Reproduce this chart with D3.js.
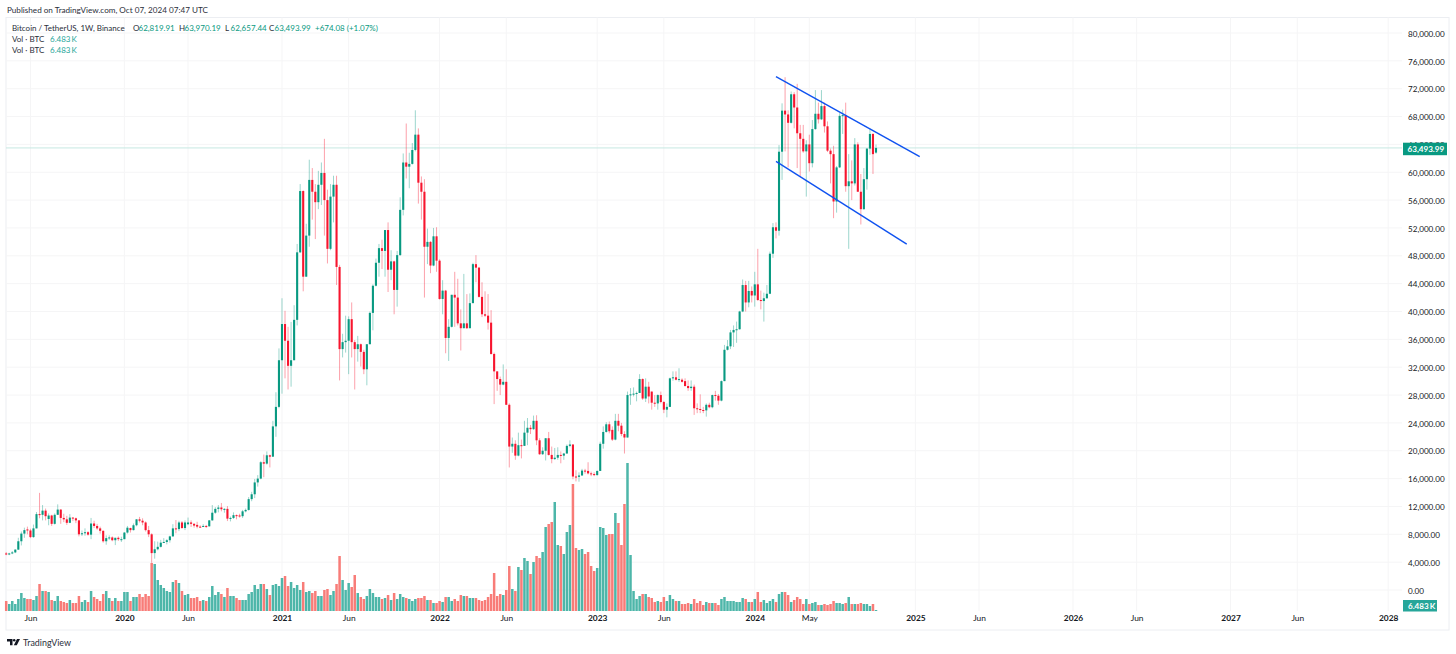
<!DOCTYPE html>
<html>
<head>
<meta charset="utf-8">
<title>BTCUSDT 1W</title>
<script src="https://cdn.jsdelivr.net/npm/d3@7"></script>
<style>
	html, body { margin: 0; padding: 0; background: #fff; overflow: hidden; }
	svg { display: block; font-family: Lato, "Open Sans", sans-serif; }
	.axis path, .axis line { display: none; }
	.axis text { fill: #131722; font-family: Lato, "Open Sans", sans-serif; }
</style>
</head>
<body>
<svg id="chart" width="1456" height="654"></svg>
<script>
// weekly candles in thousands of USDT, first one is the week of 2019-04-08
var opens = [
	5.25,5.1,5.25,5.4,5.8,7.0,8.1,8.7,8.55,7.6,8.85,10.9,10.8,11.4,10.2,10.7,9.5,10.8,11.55,10.35,
	10.15,9.65,10.4,10.3,10.0,8.0,8.15,8.3,7.95,9.55,9.2,8.85,8.5,7.0,7.45,7.55,7.15,7.5,7.25,
	// 2020
	7.3,8.25,8.9,8.6,9.3,10.15,9.95,9.7,8.6,8.0,5.3,5.85,6.2,6.8,6.9,7.15,7.7,8.85,8.75,9.7,
	8.9,9.45,9.7,9.5,9.35,9.1,9.05,9.2,9.15,10.0,11.1,11.65,11.85,11.6,11.65,10.25,10.35,10.75,10.7,10.6,
	11.3,11.5,13.05,13.75,15.45,16.0,18.35,18.15,19.35,19.15,23.5,26.3,
	// 2021
	33,38.2,35.8,32.2,33,38.8,48.5,57.3,45,50.9,58.9,57.2,55.7,58.2,59.9,56,49,56.5,58.2,46.4,
	34.6,35.6,35.8,38.9,35.6,34.6,35.3,34.2,31.7,35.3,39.8,43.7,47,49.1,48.7,51.7,46,47.2,43.1,48.1,
	54.6,61.4,60.8,61.2,63.2,65.4,58.5,57.2,49.3,50,46.6,50.8,
	// 2022
	47.3,41.8,43,36.2,37.8,42.4,42,38.3,37.6,38.3,37.6,41.2,46.8,46.3,42.1,39.6,39.4,38.4,33.9,31.4,
	30.3,29.5,29.9,26.6,20.6,21,19.3,20.8,20.7,22.6,23.3,23.1,24.3,21.5,19.5,20,21.8,19.4,18.8,19,
	19.4,19.3,19.6,20.7,20.9,16.3,16.25,16.45,17.15,17.1,16.75,16.65,
	// 2023
	16.5,17.1,21,22.7,23.8,23,21.6,24.3,23.6,22.4,21.9,28,28.1,28.2,28.3,30.3,27.5,29.2,28.5,26.9,
	26.8,28,27,25.9,26.3,30.4,30.55,30.2,30.2,30,29.3,29,29.2,26.1,26,25.85,25.8,26.6,26.25,28,
	27.9,27.2,30,34.5,35,37,37.35,37.45,40,43.8,41.3,42.95,
	// 2024
	42.3,43.9,41.65,41.5,41.9,42.55,48.3,52.1,51.6,62.95,68.85,68.3,67.1,71.2,69.3,65.6,64.8,63,64,61.3,
	66.2,68.4,67.6,69.5,66.6,63.1,62.6,55.8,60.7,68.1,68.2,58,58.7,58.4,64,57.2,54.7,59,63.4,65.5,62.82
];
var highs = [
	5.45,5.35,5.6,5.85,7.5,8.4,8.95,9.1,8.8,9.4,11.2,13.95,12.2,11.7,11.0,10.8,11.0,12.3,11.6,10.95,
	10.65,10.9,10.45,10.4,10.05,8.55,8.85,8.45,10.35,9.95,9.5,9.1,8.55,7.85,7.85,7.7,7.5,7.7,7.65,
	// 2020
	8.3,9.2,8.95,9.55,10.15,10.5,10.3,9.85,9.2,8.15,7.0,6.95,7.2,7.45,7.3,7.8,9.45,10.05,9.95,9.9,
	10.0,10.4,10.0,9.6,9.8,9.3,9.45,9.35,10.05,12.2,11.9,12.2,12.5,11.75,12.05,10.55,11.15,10.85,10.95,11.5,
	11.7,13.35,14.1,15.95,16.5,18.5,19.45,19.9,19.45,24.3,28.4,34.7,
	// 2021
	41.9,40.1,37.8,38.5,40.9,49.7,58.3,57.4,52.6,61.8,60.6,58.3,60.2,61.4,64.8,57.5,58.3,59.5,59.5,46.7,
	36.8,39.4,39.3,41.3,35.9,36.5,35.4,34.5,35.3,40,43.9,47.6,49.7,50.3,51.7,52.8,48.8,47.3,48.7,56.4,
	62.7,67,62.8,64.2,68.9,66.3,59.4,59,51.9,50.1,52,52.1,
	// 2022
	47.5,44.5,43.1,38.9,42.4,45.7,44.7,40.3,45.4,42.5,42.6,47,48.1,46.4,44.2,42.9,42.5,40.2,34.1,31.4,
	30.65,32.4,31.7,26.8,21.9,21.5,22.6,21.6,24.3,24.7,23.7,25.05,25.1,21.8,20.5,21.8,22.7,20.6,20.4,20.5,
	19.9,19.7,20.9,21.5,20.9,17.2,16.9,17.4,17.4,18.35,17,16.9,
	// 2023
	17.15,21.3,23.5,24.1,24.2,23.5,25.3,25.3,24,22.8,28.5,29,29.1,28.5,31,30.4,30.4,29.9,28.5,28,
	28.1,28.5,27.15,26.8,30.5,31.4,31.4,31.85,30.4,30.4,30.1,30.1,29.5,26.8,28.1,26.3,26.8,26.9,28.05,28.6,
	28.15,30.1,35.2,35.9,37.35,38,38.55,40.1,44.6,44.4,44.4,43.6,
	// 2024
	45.7,49,43,42.7,43.8,48.6,52.7,52.8,63.9,69.9,73.65,68.9,71.6,71.5,72.7,66.8,66.8,64.6,65.4,67.5,
	71.8,70,71.8,70,67.3,63.4,63.8,60.9,68.5,69,70,62.6,61.7,64.9,64.3,59.75,60.6,63.4,66.3,65.6,63.97
];
var lows = [
	5.0,5.0,5.15,5.3,5.75,6.4,7.5,8.0,7.45,7.5,8.85,10.3,10.0,10.0,9.3,9.2,9.4,10.8,9.5,9.75,
	9.35,9.6,9.9,9.6,7.7,7.75,7.8,7.8,7.3,8.9,8.65,8.1,6.8,6.5,7.2,7.0,6.45,7.05,6.9,
	// 2020
	7.3,8.1,8.25,8.55,9.15,9.7,9.3,8.4,7.6,3.9,4.5,5.7,6.1,6.75,6.55,6.8,7.65,8.15,8.45,8.8,
	8.6,9.3,9.05,8.95,8.85,8.95,9.05,8.9,9.1,9.95,10.95,11.15,11.3,11.1,9.9,9.85,10.2,10.15,10.4,10.35,
	11.15,11.4,12.75,13.2,14.85,15.9,16.2,18.0,17.6,19.1,22.0,26.1,
	// 2021
	28.2,30.4,28.8,29.2,33,38,48.4,42.9,45,49.3,53.2,50.4,54.7,55.3,50.9,46.9,48.8,52.8,43.8,30.1,
	33.4,34.1,31,33.4,28.8,32.8,32.1,31,29.4,35.3,37.3,43.6,45,46.1,45,42.8,44.5,39.6,40.7,48,
	53.8,59.1,57.7,61.1,63,55.5,53.2,42,46.8,45.5,46.5,45.7,
	// 2022
	41.7,39.6,34,32.9,37.7,37.8,38,34.4,37.6,37.5,37.6,41.2,44.2,42,39.2,39.2,37.4,33.8,26.7,28.6,
	28,29.4,26.6,17.6,19.7,18.7,19.2,18.9,20.7,20.8,22.4,23,20.8,19.4,19.4,18.6,19.3,18.2,18.7,18.7,
	18.2,18.7,19.6,20.5,15.9,15.6,15.55,16.4,16.7,16.6,16.35,16.35,
	// 2023
	16.45,17.1,20.3,22.6,22.5,21.4,21.5,22.8,22.1,19.6,21.9,26.6,27.8,27.1,28.3,27.3,27,26.8,25.9,26.3,
	25.9,26.8,25.4,24.8,26.3,30.05,30.1,29.9,29.8,29.2,28.6,28.6,25.15,25.4,25.4,25.4,24.9,26.1,26.1,27.2,
	26.6,27.1,30,34.4,34.6,34.9,35.5,37.4,39.9,40,40.6,41.3,
	// 2024
	40.7,41.5,40.3,38.55,41.85,42.5,47.7,50.5,50.9,58.9,63,60.7,67,66.3,60.6,59.4,62.8,56.5,60.1,60.7,
	66.1,67,67.5,65.7,62.9,58.4,53.4,54.2,60.6,65.5,57.2,49,56,58.1,57.2,52.5,54.6,57.5,62.5,59.75,62.66
];
var closes = [
	5.1,5.25,5.4,5.8,7.0,8.1,8.6,8.55,7.6,8.85,10.9,10.8,11.4,10.6,10.7,9.5,10.8,11.55,10.35,10.15,
	9.65,10.4,10.3,10.0,8.0,8.15,8.3,7.95,9.55,9.2,8.85,8.5,7.0,7.45,7.55,7.15,7.5,7.3,7.3,
	// 2020
	8.25,8.95,8.6,9.3,10.15,9.95,9.7,8.6,8.0,5.3,5.85,6.2,6.8,6.9,7.15,7.7,8.85,8.75,9.7,8.9,
	9.7,9.7,9.5,9.25,9.1,9.05,9.2,9.15,10.0,11.1,11.65,11.85,11.6,11.65,10.25,10.35,10.75,10.7,10.6,11.3,
	11.5,13.05,13.75,15.45,16.0,18.35,18.15,19.35,19.15,23.5,26.3,33,
	// 2021
	38.2,35.8,32.2,33,38.8,48.5,57.3,45,50.9,58.9,57.2,55.7,58.2,59.9,56,49,56.5,58.2,46.4,34.6,
	35.6,35.8,38.9,35.6,34.6,35.3,34.2,31.7,35.3,39.8,43.7,47,49.1,48.7,51.7,46,47.2,43.1,48.1,54.6,
	61.4,60.8,61.2,63.2,65.4,58.5,57.2,49.3,50,46.6,50.8,47.3,
	// 2022
	41.8,43,36.2,37.8,42.4,42,38.3,37.6,38.3,37.6,41.2,46.8,46.3,42.1,39.6,39.4,38.4,33.9,31.4,30.3,
	29.5,29.9,26.6,20.6,21,19.3,20.8,20.7,22.6,23.3,23.1,24.3,21.5,19.5,20,21.8,19.4,18.8,19,19.4,
	19.3,19.6,20.7,20.9,16.3,16.25,16.45,17.15,17.1,16.75,16.65,16.5,
	// 2023
	17.1,21,22.7,23.8,22.8,21.6,24.3,23.6,22.4,21.9,28,28.1,28.2,28.3,30.3,27.5,29.2,27.8,26.9,26.8,
	28,27,25.9,26.3,30.4,30.55,30.2,30.3,29.9,29.3,29,29.2,26.1,26,25.85,25.8,26.6,26.25,28,27.9,
	27.2,30,34.5,35,37,37.35,37.45,40,43.8,41.3,42.95,42.3,
	// 2024
	43.9,41.65,41.5,41.9,42.55,48.3,52.1,51.6,62.95,68.85,68.3,67.1,71.2,69.3,65.6,64.8,63,64,61.3,66.2,
	68.4,67.6,69.5,66.6,63.1,62.6,55.8,60.7,68.1,68.2,58,58.7,58.4,64,57.2,54.7,59,63.4,65.5,62.6,63.49
];
// bar heights, one unit is about one last week's volume (6.483K BTC)
var volumes = [
	10,7,10,7,12,18,13,12,12,11,15,27,20,20,19,11,10,15,10,9,
	8,11,8,8,15,9,11,9,20,14,12,10,17,20,13,10,13,10,10,
	// 2020
	19,19,10,14,14,17,14,17,15,48,47,31,26,23,20,19,29,31,28,20,
	16,17,13,13,14,10,11,10,14,25,16,19,17,14,23,15,15,13,11,11,
	11,17,19,26,22,27,27,22,16,26,27,25,
	// 2021
	33,35,25,29,23,26,21,29,19,20,18,20,15,15,21,22,16,20,27,55,
	31,21,28,24,36,18,14,12,15,22,18,14,14,12,13,16,11,18,12,17,
	14,13,12,10,12,13,13,15,11,11,8,8,
	// 2022
	10,9,14,14,10,12,10,16,15,15,13,13,13,11,10,11,14,17,38,15,
	17,16,21,45,22,20,44,41,53,50,37,49,55,53,59,84,87,89,109,66,
	65,57,79,86,127,63,61,62,57,59,45,40,
	// 2023
	43,84,83,76,77,77,98,88,66,107,148,56,20,12,15,17,17,14,13,9,
	10,9,14,10,16,12,10,10,7,7,8,7,12,8,10,6,9,8,8,8,
	6,12,14,10,10,10,9,9,13,12,9,9,
	// 2024
	12,19,9,11,8,10,12,9,17,19,19,16,9,11,14,12,7,12,7,8,
	9,6,6,7,6,7,10,8,8,7,8,14,7,7,7,8,7,7,5,7,1
];

var firstWeek = new Date(Date.UTC(2019, 3, 8));
var week = 7 * 864e5;

var priceTicks = d3.range(0, 80001, 4000);
var timeTickDates = ['2019-06-03','2020-01-06','2020-06-01','2021-01-04','2021-06-07','2022-01-03','2022-06-06',
	'2023-01-02','2023-06-05','2024-01-01','2024-05-06','2025-01-06','2025-06-02','2026-01-05','2026-06-01',
	'2027-01-04','2027-06-07','2028-01-03'];
var timeTickLabels = ['Jun','2020','Jun','2021','Jun','2022','Jun','2023','Jun','2024','May','2025','Jun','2026','Jun','2027','Jun','2028'];

// hand drawn channel on the chart, [date, price]
var channelUpper = [['2024-02-19', 73750], ['2025-01-16', 62250]];
var channelLower = [['2024-02-19', 61550], ['2024-12-17', 49670]];

var legendPrices = [['O','62,819.91'],['H','63,970.19'],['L','62,657.44'],['C','63,493.99']];
var lastPrice = 63493.99;

var frame = {left: 6, top: 17.5, right: 1449, bottom: 630};
var plot = {right: 1402, bottom: 611};
var green = '#089981', red = '#f7152e';

var candles = d3.zip(opens, highs, lows, closes, volumes).map(function(d, i) {
	return {
		date: new Date(+firstWeek + i * week),
		open: d[0] * 1000, high: d[1] * 1000, low: d[2] * 1000, close: d[3] * 1000,
		volume: d[4]
	};
});

var x = d3.scaleUtc()
	.domain([firstWeek, new Date(Date.UTC(2024, 9, 7))])
	.range([6.2, 876]);
var y = d3.scaleLinear().domain([0, 80000]).range([590, 33]);
var yVol = d3.scaleLinear().domain([0, 150]).range([plot.bottom, plot.bottom - 150]);

var parseDay = function(s) { return new Date(s + 'T00:00:00Z'); };
var svg = d3.select('#chart');

// frame
svg.append('rect')
	.attr('x', frame.left).attr('y', frame.top)
	.attr('width', frame.right - frame.left).attr('height', frame.bottom - frame.top)
	.attr('fill', 'none').attr('stroke', '#eceef2');

// grid
var timeTicks = timeTickDates.map(parseDay);
svg.append('g').selectAll('line').data(priceTicks).join('line')
	.attr('x1', frame.left).attr('x2', plot.right)
	.attr('y1', function(d) { return y(d); }).attr('y2', function(d) { return y(d); })
	.attr('stroke', '#f5f5f6');
svg.append('g').selectAll('line').data(timeTicks).join('line')
	.attr('x1', function(d) { return x(d); }).attr('x2', function(d) { return x(d); })
	.attr('y1', frame.top).attr('y2', plot.bottom)
	.attr('stroke', '#f5f5f6');

// last price line
svg.append('line')
	.attr('x1', frame.left).attr('x2', plot.right)
	.attr('y1', y(lastPrice)).attr('y2', y(lastPrice))
	.attr('stroke', '#c6e8e2');

// volume
svg.append('g').selectAll('rect').data(candles).join('rect')
	.attr('x', function(d) { return x(d.date) - 1.25; })
	.attr('width', 2.5)
	.attr('y', function(d) { return yVol(d.volume); })
	.attr('height', function(d) { return yVol(0) - yVol(d.volume); })
	.attr('fill', function(d) { return d.close >= d.open ? '#4db6a9' : '#f87c78'; });

// candles
var colorOf = function(d) { return d.close >= d.open ? green : red; };
var gCandles = svg.append('g');
gCandles.selectAll('line').data(candles).join('line')
	.attr('x1', function(d) { return x(d.date); }).attr('x2', function(d) { return x(d.date); })
	.attr('y1', function(d) { return y(d.high); }).attr('y2', function(d) { return y(d.low); })
	.attr('stroke', colorOf).attr('stroke-opacity', 0.4).attr('stroke-width', 1);
gCandles.selectAll('rect').data(candles).join('rect')
	.attr('x', function(d) { return x(d.date) - 1.05; })
	.attr('width', 2.1)
	.attr('y', function(d) { return y(Math.max(d.open, d.close)); })
	.attr('height', function(d) { return Math.max(1, Math.abs(y(d.open) - y(d.close))); })
	.attr('fill', colorOf);

// channel
[channelUpper, channelLower].forEach(function(points) {
	svg.append('line')
		.attr('x1', x(parseDay(points[0][0]))).attr('y1', y(points[0][1]))
		.attr('x2', x(parseDay(points[1][0]))).attr('y2', y(points[1][1]))
		.attr('stroke', '#0f52f0').attr('stroke-width', 1.4);
});

// axes
var axisY = d3.axisRight(y)
	.tickValues(priceTicks)
	.tickSize(0).tickPadding(0)
	.tickFormat(d3.format(',.2f'));
svg.append('g').attr('class', 'axis')
	.attr('transform', 'translate(1408,0.6)')
	.call(axisY)
	.selectAll('text').attr('font-size', 8.1).attr('fill', '#2a2e39');

var axisX = d3.axisBottom(x)
	.tickValues(timeTicks)
	.tickSize(0).tickPadding(0)
	.tickFormat(function(d, i) { return timeTickLabels[i]; });
svg.append('g').attr('class', 'axis')
	.attr('transform', 'translate(0,615.5)')
	.call(axisX)
	.selectAll('text')
		.attr('font-size', 8.4)
		.attr('font-weight', function(d, i) { return /^\d/.test(timeTickLabels[i]) ? 700 : 400; });

// value tags on the price scale
svg.append('rect').attr('x', 1403).attr('y', 142.7).attr('width', 44).attr('height', 12.5).attr('fill', green);
svg.append('text').attr('x', 1407.5).attr('y', 151.9).attr('font-size', 8.1).attr('font-weight', 700)
	.attr('fill', '#fff').text('63,493.99');
svg.append('rect').attr('x', 1403).attr('y', 600).attr('width', 34).attr('height', 11.5).attr('fill', '#26a69a');
svg.append('text').attr('x', 1408).attr('y', 608.8).attr('font-size', 8.1).attr('font-weight', 700)
	.attr('word-spacing', -1).attr('fill', '#fff').text('6.483 K');

// titles and legend
var text = function(px, py, size, color, s) {
	return svg.append('text').attr('x', px).attr('y', py).attr('font-size', size).attr('fill', color).text(s);
};
text(7, 12.8, 8.15, '#2a2e39', 'Published on TradingView.com, Oct 07, 2024 07:47 UTC');
text(12, 30.5, 8, '#2a2e39', 'Bitcoin / TetherUS, 1W, Binance');
var legendX = [133, 179, 225, 269];
legendPrices.forEach(function(d, i) {
	text(legendX[i], 30.5, 8, '#2a2e39', d[0]);
	text(legendX[i] + 5.5, 30.5, 8, green, d[1]);
});
text(315, 30.5, 8, green, '+674.08 (+1.07%)');
[42, 53.2].forEach(function(py) {
	text(12, py, 8, '#2a2e39', 'Vol \u00b7 BTC');
	text(50, py, 8, '#26a69a', '6.483 K').attr('word-spacing', -1);
});

// logo
svg.append('path')
	.attr('fill', '#131722')
	.attr('d', 'M7 639h5.5v6.2H10v-3.7H7z M20 639l-3.2 6.2h-3l3.2-6.2z');
svg.append('circle').attr('cx', 14.2).attr('cy', 640.3).attr('r', 1.25).attr('fill', '#131722');
text(23, 646, 8.9, '#2a2e39', 'TradingView');
</script>
</body>
</html>
